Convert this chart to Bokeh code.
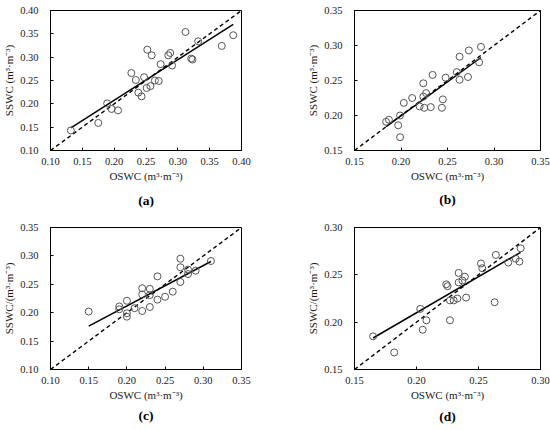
import numpy as np
from bokeh.plotting import figure
from bokeh.layouts import column, row
from bokeh.models import Title, FixedTicker, NumeralTickFormatter, Range1d
from bokeh.embed import file_html
from bokeh.resources import INLINE

# ---- data ----
a_oswc = [0.132, 0.175, 0.189, 0.196, 0.206, 0.227, 0.234, 0.238, 0.243, 0.247, 0.251, 0.252, 0.257,
          0.259, 0.264, 0.270, 0.273, 0.285, 0.288, 0.291, 0.312, 0.321, 0.323, 0.332, 0.369, 0.387]
a_sswc = [0.143, 0.159, 0.201, 0.189, 0.186, 0.266, 0.251, 0.224, 0.216, 0.257, 0.234, 0.316, 0.238,
          0.304, 0.250, 0.249, 0.285, 0.304, 0.309, 0.282, 0.354, 0.297, 0.295, 0.334, 0.324, 0.347]

b_oswc = [0.184, 0.187, 0.197, 0.199, 0.199, 0.203, 0.212, 0.220, 0.224, 0.224, 0.225, 0.227,
          0.232, 0.234, 0.244, 0.245, 0.248, 0.260, 0.263, 0.263, 0.273, 0.272, 0.284, 0.286]
b_sswc = [0.191, 0.194, 0.186, 0.200, 0.169, 0.218, 0.225, 0.213, 0.246, 0.227, 0.211, 0.232,
          0.212, 0.258, 0.211, 0.223, 0.254, 0.262, 0.284, 0.251, 0.293, 0.255, 0.276, 0.298]

c_oswc = [0.15, 0.19, 0.19, 0.20, 0.20, 0.20, 0.21, 0.22, 0.22, 0.22, 0.23, 0.23, 0.23,
          0.24, 0.24, 0.25, 0.26, 0.27, 0.27, 0.27, 0.28, 0.28, 0.29, 0.31]
c_sswc = [0.202, 0.211, 0.206, 0.221, 0.199, 0.193, 0.208, 0.243, 0.232, 0.203, 0.242, 0.231, 0.210,
          0.264, 0.223, 0.228, 0.237, 0.295, 0.280, 0.254, 0.276, 0.268, 0.274, 0.291]

d_oswc = [0.165, 0.182, 0.203, 0.205, 0.208, 0.224, 0.225, 0.227, 0.227, 0.230, 0.233, 0.234,
          0.234, 0.237, 0.239, 0.240, 0.252, 0.253, 0.263, 0.264, 0.274, 0.280, 0.283, 0.284]
d_sswc = [0.185, 0.168, 0.214, 0.192, 0.202, 0.240, 0.238, 0.202, 0.223, 0.223, 0.225, 0.252,
          0.242, 0.244, 0.248, 0.226, 0.262, 0.257, 0.221, 0.271, 0.263, 0.267, 0.264, 0.278]

fit_slope = [0.871, 0.969, 0.710, 0.761]
fit_intercept = [0.0333, 0.0057, 0.0700, 0.0577]

axis_lo = [0.10, 0.15, 0.10, 0.15]
axis_hi = [0.40, 0.35, 0.35, 0.30]
tick_step = 0.05

panel_labels = ["(a)", "(b)", "(c)", "(d)"]
x_title = "OSWC (m³·m⁻³)"
y_titles = ["SSWC (m³·m⁻³)", "SSWC (m³·m⁻³)", "SSWC/(m³·m⁻³)", "SSWC/(m³·m⁻³)"]

xs_all = [a_oswc, b_oswc, c_oswc, d_oswc]
ys_all = [a_sswc, b_sswc, c_sswc, d_sswc]

# layout: (left, right, top, bottom) borders of each 275x215 panel
borders = [(47, 34, 10, 65), (79, 10, 7, 63), (47, 34, 10, 60), (79, 10, 12, 61)]
label_standoff = [12, 10, 5, 6]

FONT = "Liberation Serif"
TXT = "#1a1a1a"


def make_panel(i):
    lo, hi = axis_lo[i], axis_hi[i]
    l, r, t, b = borders[i]
    p = figure(width=275, height=215, output_backend="svg", toolbar_location=None,
               x_range=Range1d(lo, hi), y_range=Range1d(lo, hi),
               min_border_left=l, min_border_right=r, min_border_top=t, min_border_bottom=b)
    p.grid.visible = False
    p.outline_line_color = "black"
    p.outline_line_width = 1
    p.background_fill_color = "white"
    p.border_fill_color = "white"
    ticks = [round(v, 2) for v in np.arange(lo, hi + 1e-6, tick_step)]
    for ax in (p.xaxis[0], p.yaxis[0]):
        ax.ticker = FixedTicker(ticks=ticks)
        ax.formatter = NumeralTickFormatter(format="0.00")
        ax.minor_tick_line_color = None
        ax.major_tick_in = 3
        ax.major_tick_out = 0
        ax.major_tick_line_color = "black"
        ax.axis_line_color = "black"
        ax.major_label_text_font = FONT
        ax.major_label_text_font_size = "10.5px"
        ax.major_label_text_color = TXT
        ax.axis_label_text_font = FONT
        ax.axis_label_text_font_size = "11px"
        ax.axis_label_text_font_style = "normal"
        ax.axis_label_text_color = TXT
    p.xaxis.axis_label = x_title
    p.yaxis.axis_label = y_titles[i]
    p.xaxis.major_label_standoff = 7
    p.yaxis.major_label_standoff = 12
    p.xaxis.axis_label_standoff = 2
    p.yaxis.axis_label_standoff = 2

    # 1:1 line
    p.line([lo, hi], [lo, hi], line_color="black", line_width=1.4, line_dash="4 3")
    # regression line
    x = np.array(xs_all[i])
    fx = np.array([x.min(), x.max()])
    p.line(fx, fit_intercept[i] + fit_slope[i] * fx, line_color="black", line_width=1.5)
    # points
    p.scatter(xs_all[i], ys_all[i], marker="circle", size=7, fill_color=None,
              line_color="#555555", line_width=1)

    title = Title(text=panel_labels[i], align="center", text_font=FONT,
                  text_font_size="13.5px", text_font_style="bold", text_color="black",
                  standoff=label_standoff[i])
    p.add_layout(title, "below")
    return p


panels = [make_panel(i) for i in range(4)]
layout = column(row(panels[0], panels[1]), row(panels[2], panels[3]))

open("out.html", "w").write(file_html(layout, INLINE))
